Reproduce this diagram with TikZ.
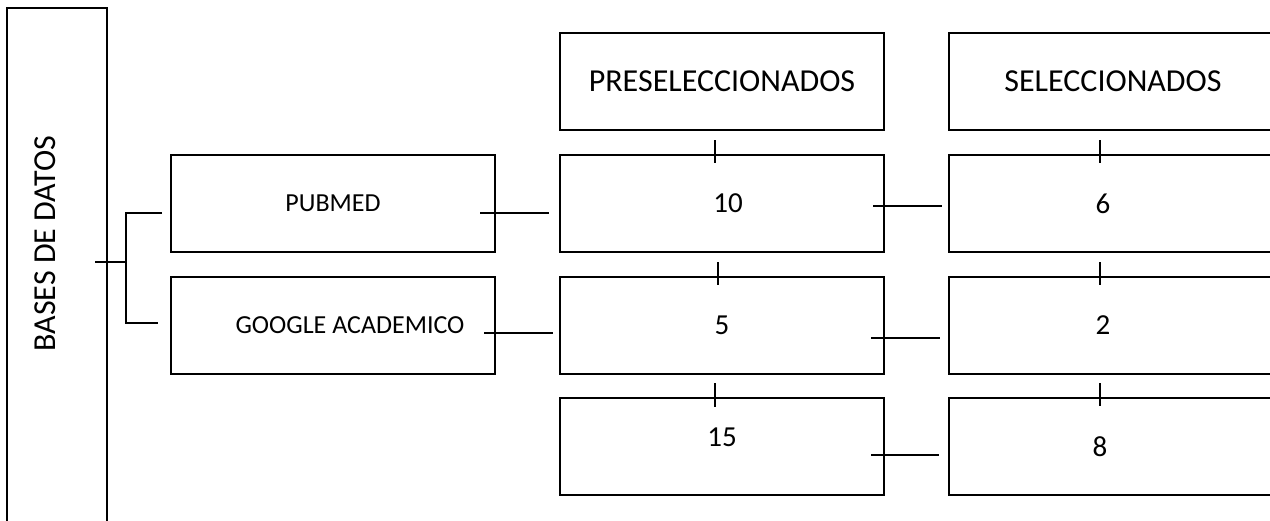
\documentclass[tikz,border=0pt]{standalone}
\usepackage{fontspec}
\setmainfont{Carlito}
\usetikzlibrary{positioning,calc}
\tikzset{box/.style={
    rectangle,minimum width=162pt,minimum height=48.5pt,
    line width=1.1pt,draw=black,outer sep=0pt,inner sep=0pt}
}
\tikzset{headbox/.style={box,font=\fontsize{16}{19}\selectfont}}
\tikzset{dbbox/.style={box,font=\fontsize{13}{16}\selectfont}}
\tikzset{countbox/.style={box,font=\fontsize{14.5}{17}\selectfont}}
\tikzset{link/.style={line width=0.75pt,draw=black}}

\begin{document}
\begin{tikzpicture}[x=0.5pt,y=-0.5pt]
  \useasboundingbox (0,0) rectangle (1270,520);
  \clip (0,0) rectangle (1270,520);
  % bases de datos
  \node (bd) [box,minimum width=50pt,minimum height=266pt] at (57,274) {};
  \node (bdtext) [rotate=90,font=\fontsize{16}{19}\selectfont] at (45,243.5) {BASES DE DATOS};
  \node (pub) [dbbox] at (333,203.5) {PUBMED};
  \node (goo) [dbbox,below=12.5pt of pub] {\hspace*{17pt}GOOGLE ACADEMICO};
  % preseleccionados
  \node (n10) [countbox,right=32.5pt of pub] {\hspace*{6pt}10};
  \node (pre) [headbox,above=12.5pt of n10] {PRESELECCIONADOS};
  \node (n5) [countbox,below=12.5pt of n10] {5};
  \node (n15) [countbox,below=12pt of n5] {\raisebox{4.5pt}[\height][\depth]{15}};
  % seleccionados
  \node (n6) [countbox,right=32.5pt of n10] {6\hspace*{8pt}};
  \node (sel) [headbox,above=12.5pt of n6] {\hspace*{2pt}SELECCIONADOS};
  \node (n2) [countbox,below=12.5pt of n6] {2\hspace*{8pt}};
  \node (n8) [countbox,below=12pt of n2] {8\hspace*{11pt}};
  % fork to the databases
  \coordinate (fork) at (126,262);
  \draw[link] ($(bd.east|-fork)+(-12,0)$) -- (fork);
  \draw[link] ($(pub.west)+(-9,9.5)$) -| (fork) |- ($(goo.west)+(-13,-2.5)$);
  % horizontal links
  \draw[link] ($(pub.east)+(-15,9.5)$) -- ($(n10.west)+(-11,9.5)$);
  \draw[link] ($(goo.east)+(-11,7.5)$) -- ($(n5.west)+(-7,7.5)$);
  \draw[link] ($(n10.east)+(-11,2.5)$) -- ($(n6.west)+(-7,2.5)$);
  \draw[link] ($(n5.east)+(-13,12.5)$) -- ($(n2.west)+(-9,12.5)$);
  \draw[link] ($(n15.east)+(-13,8.5)$) -- ($(n8.west)+(-10,8.5)$);
  % vertical ticks
  \draw[link] ($(pre.south)+(-7,10)$) -- ($(n10.north)+(-7,8)$);
  \draw[link] ($(n10.south)+(-4,10)$) -- ($(n5.north)+(-4,8)$);
  \draw[link] ($(n5.south)+(-7,9)$) -- ($(n15.north)+(-7,9)$);
  \draw[link] ($(sel.south)+(-11,10)$) -- ($(n6.north)+(-11,8)$);
  \draw[link] ($(n6.south)+(-11,10)$) -- ($(n2.north)+(-11,8)$);
  \draw[link] ($(n2.south)+(-11,9)$) -- ($(n8.north)+(-11,8)$);
\end{tikzpicture}
\end{document}
